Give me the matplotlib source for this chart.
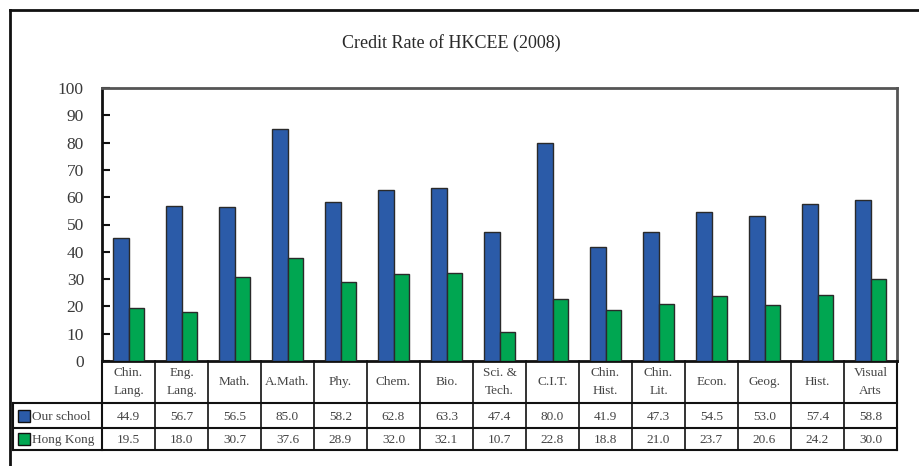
import matplotlib
matplotlib.use("Agg")
import matplotlib.pyplot as plt
from matplotlib.lines import Line2D
import numpy as np

# ---- data ----
categories = ["Chin.\nLang.", "Eng.\nLang.", "Math.", "A.Math.", "Phy.", "Chem.", "Bio.",
              "Sci. &\nTech.", "C.I.T.", "Chin.\nHist.", "Chin.\nLit.", "Econ.", "Geog.",
              "Hist.", "Visual\nArts"]
our_school = [44.9, 56.7, 56.5, 85.0, 58.2, 62.8, 63.3, 47.4, 80.0, 41.9, 47.3, 54.5, 53.0, 57.4, 58.8]
hong_kong = [19.5, 18.0, 30.7, 37.6, 28.9, 32.0, 32.1, 10.7, 22.8, 18.8, 21.0, 23.7, 20.6, 24.2, 30.0]
series_names = ["Our school", "Hong Kong"]
yticks = list(range(0, 101, 10))
title = "Credit Rate of HKCEE (2008)"

BLUE = "#2B5BA8"
GREEN = "#00A651"
EDGE = "#2a2a2a"
FONT = "Liberation Serif"

W, H = 919, 466
fig = plt.figure(figsize=(W / 100, H / 100), dpi=100)
fig.patch.set_facecolor("white")

def fx(px):
    return px / W

def fy(py):
    return 1 - py / H

# plot area pixels
L, R, T, B = 102, 897, 88, 361
ax = fig.add_axes([fx(L), fy(B), fx(R - L), (B - T) / H])
n = len(categories)
x = np.arange(n)
bw = 0.29
ax.bar(x + 0.5 - bw / 2, our_school, width=bw, color=BLUE, edgecolor=EDGE, linewidth=1.0, zorder=3)
ax.bar(x + 0.5 + bw / 2, hong_kong, width=bw, color=GREEN, edgecolor=EDGE, linewidth=1.0, zorder=3)
ax.set_xlim(0, n)
ax.set_ylim(0, 100)
ax.set_yticks(yticks)
ax.set_yticklabels([str(v) for v in yticks], fontfamily=FONT, fontsize=12.5, color="#3a3a3a")
ax.tick_params(axis="y", direction="in", length=6, width=1.5, pad=13, color="#111")
ax.set_xticks([])
for s in ["left", "bottom"]:
    ax.spines[s].set_linewidth(2.0)
    ax.spines[s].set_color("#111")
for s in ["top", "right"]:
    ax.spines[s].set_linewidth(2.0)
    ax.spines[s].set_color("#555")

# title
fig.text(fx(451), fy(43), title, ha="center", va="center", fontfamily=FONT, fontsize=13, color="#2a2a2a")

# outer frame
fig.add_artist(Line2D([fx(10), fx(10)], [fy(10), 0], transform=fig.transFigure, color="#111", lw=2))
fig.add_artist(Line2D([fx(10), 1], [fy(10), fy(10)], transform=fig.transFigure, color="#111", lw=2))

# ---- data table ----
TL, TB = 13, 450
row_top = [361, 403, 428]
row_bot = [403, 428, 450]
lab_w = (L - TL) / ((R - L) / n)  # label column width in category units
tax = fig.add_axes([fx(TL), fy(TB), fx(R - TL), (TB - B) / H])
tax.set_xlim(-lab_w, n)
tax.set_ylim(TB, B)  # pixel rows, inverted
tax.axis("off")
lc = "#111"
# vertical lines at category boundaries
for i in range(n + 1):
    tax.plot([i, i], [B, TB], color=lc, lw=1.5 if i in (0, n) else 1.2, clip_on=False)
# horizontal lines
for yy in [403, 428, 450]:
    tax.plot([-lab_w, n], [yy, yy], color=lc, lw=1.5, clip_on=False)
tax.plot([-lab_w, -lab_w], [403, 450], color=lc, lw=1.5, clip_on=False)

tkw = dict(fontfamily=FONT, fontsize=9.5, color="#444", ha="center", va="center")
for i, c in enumerate(categories):
    tax.text(i + 0.5, (B + 403) / 2, c, linespacing=1.6, **tkw)
values = [our_school, hong_kong]
colors = [BLUE, GREEN]
for r, (vals, name, col) in enumerate(zip(values, series_names, colors)):
    yc = (row_top[r + 1] + row_bot[r + 1]) / 2 + 1
    for i, v in enumerate(vals):
        tax.text(i + 0.5, yc, f"{v:.1f}", **tkw)
    tax.plot([-lab_w + 0.2], [yc - 1], marker="s", markersize=8, markerfacecolor=col,
             markeredgecolor="#111", markeredgewidth=1.0, clip_on=False)
    tax.text(-lab_w + 0.36, yc, name, fontfamily=FONT, fontsize=9.5, color="#444", ha="left", va="center")

fig.savefig("out.png", dpi=100, facecolor="white")
